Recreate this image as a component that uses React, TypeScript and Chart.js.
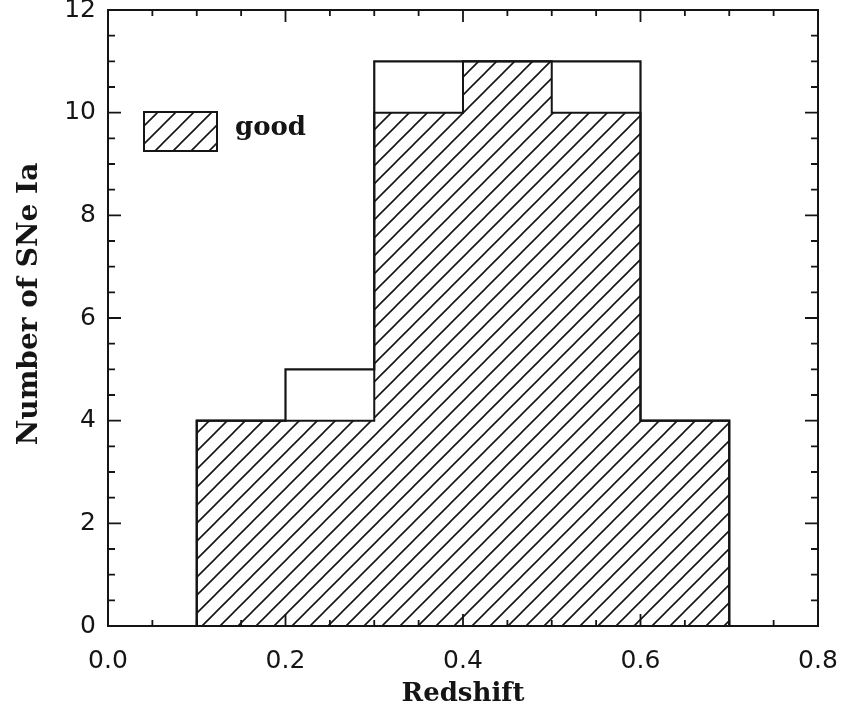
import React, { useEffect, useRef } from "react";
import { Chart, registerables } from "chart.js";

Chart.register(...registerables);

// Histogram of supernova redshifts: all objects vs. the "good" subsample
const binEdges = [0.1, 0.2, 0.3, 0.4, 0.5, 0.6, 0.7];
const allCounts = [4, 5, 11, 11, 11, 4];
const goodCounts = [4, 4, 10, 11, 10, 4];
const xTickValues = [0.0, 0.2, 0.4, 0.6, 0.8];
const yTickValues = [0, 2, 4, 6, 8, 10, 12];
const legendLabel = "good";
const xTitle = "Redshift";
const yTitle = "Number of SNe Ia";

const INK = "#151515";
const TICK_FONT = "DejaVu Sans";
const TITLE_FONT = "DejaVu Serif";
const TITLE_SIZE = 26;

// Outline of a histogram as a stepped polyline, closed down to zero at both ends
function stepPoints(edges: number[], counts: number[]) {
  const pts = [{ x: edges[0], y: 0 }];
  counts.forEach((c, i) => pts.push({ x: edges[i], y: c }));
  pts.push({ x: edges[edges.length - 1], y: 0 });
  return pts;
}

// Diagonal "/" hatching used for the good subsample
function makeHatch(): CanvasPattern | string {
  const s = 18;
  const tile = document.createElement("canvas");
  tile.width = s;
  tile.height = s;
  const g = tile.getContext("2d");
  if (!g) return "rgba(0,0,0,0)";
  g.strokeStyle = INK;
  g.lineWidth = 1.6;
  g.lineCap = "square";
  g.beginPath();
  g.moveTo(-2, s + 2);
  g.lineTo(s + 2, -2);
  g.moveTo(-2, 2);
  g.lineTo(2, -2);
  g.moveTo(s - 2, s + 2);
  g.lineTo(s + 2, s - 2);
  g.stroke();
  return g.createPattern(tile, "repeat") || "rgba(0,0,0,0)";
}

function zeroPadding(scale: any) {
  scale.paddingTop = 0;
  scale.paddingBottom = 0;
  scale.paddingLeft = 0;
  scale.paddingRight = 0;
}

// Frame around the plot with inward-pointing major and minor ticks on all sides
const frameTicks = {
  id: "frameTicks",
  afterDatasetsDraw(chart: any) {
    const { ctx, chartArea: a, scales } = chart;
    const xs = scales.x;
    const ys = scales.y;
    ctx.save();
    ctx.strokeStyle = INK;
    ctx.lineWidth = 2;
    ctx.strokeRect(a.left, a.top, a.right - a.left, a.bottom - a.top);
    ctx.lineWidth = 1.8;
    ctx.beginPath();
    for (let i = 0; i <= 16; i++) {
      const v = i * 0.05;
      const px = xs.getPixelForValue(v);
      const len = i % 4 === 0 ? 12 : 6;
      ctx.moveTo(px, a.bottom);
      ctx.lineTo(px, a.bottom - len);
      ctx.moveTo(px, a.top);
      ctx.lineTo(px, a.top + len);
    }
    for (let i = 0; i <= 24; i++) {
      const v = i * 0.5;
      const py = ys.getPixelForValue(v);
      const len = i % 4 === 0 ? 13 : 7;
      ctx.moveTo(a.left, py);
      ctx.lineTo(a.left + len, py);
      ctx.moveTo(a.right, py);
      ctx.lineTo(a.right - len, py);
    }
    ctx.stroke();

    // Vertical y-axis title, set slightly above the plot's mid-height
    ctx.fillStyle = INK;
    ctx.font = `bold 28px "${TITLE_FONT}"`;
    ctx.textAlign = "center";
    ctx.textBaseline = "middle";
    ctx.translate(30, (a.top + a.bottom) / 2 - 14);
    ctx.rotate(-Math.PI / 2);
    ctx.fillText(yTitle, 0, 0);
    ctx.restore();
  },
};

// Hatched legend swatch with its label, inside the upper-left of the plot
const hatchLegend = {
  id: "hatchLegend",
  afterDraw(chart: any) {
    const { ctx, chartArea: a } = chart;
    const ds = chart.data.datasets[0];
    const x = a.left + 36;
    const y = a.top + 102;
    const w = 73;
    const h = 39;
    ctx.save();
    ctx.fillStyle = ds.backgroundColor;
    ctx.fillRect(x, y, w, h);
    ctx.strokeStyle = INK;
    ctx.lineWidth = 2;
    ctx.strokeRect(x, y, w, h);
    ctx.fillStyle = INK;
    ctx.font = `bold ${TITLE_SIZE}px "${TITLE_FONT}"`;
    ctx.textAlign = "left";
    ctx.textBaseline = "middle";
    ctx.fillText(ds.label, x + w + 18, y + h / 2 - 3);
    ctx.restore();
  },
};

export default function App() {
  const ref = useRef<HTMLCanvasElement | null>(null);

  useEffect(() => {
    const canvas = ref.current;
    if (!canvas) return;
    const hatch = makeHatch();
    const chart = new Chart(canvas, {
      type: "line",
      data: {
        datasets: [
          {
            label: legendLabel,
            data: stepPoints(binEdges, goodCounts),
            stepped: "before",
            borderColor: INK,
            borderWidth: 2,
            backgroundColor: hatch as any,
            fill: "origin",
            pointRadius: 0,
            order: 1,
          },
          {
            label: "all",
            data: stepPoints(binEdges, allCounts),
            stepped: "before",
            borderColor: INK,
            borderWidth: 2.2,
            backgroundColor: "rgba(0,0,0,0)",
            fill: false,
            pointRadius: 0,
            order: 0,
          },
        ],
      },
      options: {
        animation: false,
        responsive: false,
        devicePixelRatio: 1,
        layout: { padding: { top: 10, right: 26, left: 0, bottom: 0 } },
        plugins: {
          legend: { display: false },
          tooltip: { enabled: false },
        },
        scales: {
          x: {
            type: "linear",
            min: 0,
            max: 0.8,
            grid: { display: false, drawTicks: false },
            border: { display: false },
            afterBuildTicks: (s: any) => {
              s.ticks = xTickValues.map((v) => ({ value: v }));
            },
            afterFit: (s: any) => {
              s.height = 83;
              zeroPadding(s);
            },
            ticks: {
              autoSkip: false,
              maxRotation: 0,
              padding: 20,
              color: INK,
              font: { family: TICK_FONT, size: 25, lineHeight: 1.2 },
              callback: (v: any) => Number(v).toFixed(1),
            },
            title: {
              display: true,
              text: xTitle,
              color: INK,
              font: { family: TITLE_FONT, size: TITLE_SIZE, weight: "bold", lineHeight: 1 },
              padding: { top: 0, bottom: 2 },
            },
          },
          y: {
            type: "linear",
            min: 0,
            max: 12,
            grid: { display: false, drawTicks: false },
            border: { display: false },
            afterBuildTicks: (s: any) => {
              s.ticks = yTickValues.map((v) => ({ value: v }));
            },
            afterFit: (s: any) => {
              s.width = 108;
              zeroPadding(s);
            },
            ticks: {
              autoSkip: false,
              padding: 12,
              color: INK,
              font: { family: TICK_FONT, size: 25, lineHeight: 1.2 },
              callback: (v: any) => String(v),
            },
            title: { display: false },
          },
        },
      },
      plugins: [frameTicks, hatchLegend],
    } as any);
    return () => chart.destroy();
  }, []);

  return (
    <div style={{ position: "absolute", left: 0, top: 0, width: 844, height: 709, background: "#fff" }}>
      <canvas ref={ref} width={844} height={709} style={{ display: "block" }} />
    </div>
  );
}
